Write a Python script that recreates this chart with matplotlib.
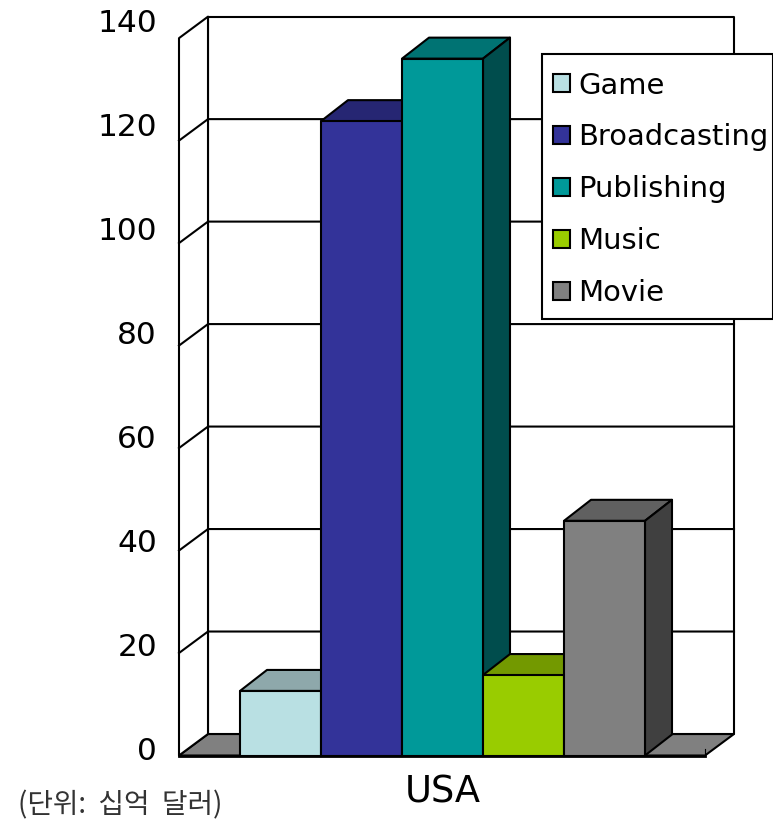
#!/usr/bin/env python3
"""Pseudo-3D column chart of US content market by sector."""
import matplotlib
matplotlib.use('Agg')
import matplotlib.pyplot as plt
from matplotlib.patches import Polygon, Rectangle
from matplotlib.transforms import ScaledTranslation

# ── Data ──
SECTORS = ['Game', 'Broadcasting', 'Publishing', 'Music', 'Movie']
VALUES = [12.6, 123.8, 136.0, 15.7, 45.8]
Y_TICKS = [0, 20, 40, 60, 80, 100, 120, 140]
COUNTRY = 'USA'
UNIT_NOTE = '(단위:  십억  달러)'

FRONT = ['#B9E0E3', '#333399', '#009999', '#99CC00', '#808080']
TOP = ['#8EA8AB', '#262673', '#007373', '#739900', '#606060']
SIDE = ['#6F8688', '#1A1A4D', '#004D4D', '#4D6600', '#404040']

# ── Layout (figure is 773x822 px) ──
W, H = 773, 822
PX_X = 81.0       # px per bar width
PX_Y = 5.124      # px per value unit
LEFT, RIGHT, BOTTOM, TOP_PX = 179, 733, 755.5, 16
WALL_DX, WALL_DY = 29 / PX_X, 21.5 / PX_Y
BAR_DX, BAR_DY = 27 / PX_X, 21 / PX_Y
FLOOR_W = 526 / PX_X
BAR_START = 61 / PX_X
LW = 1.5

fig = plt.figure(figsize=(W / 100, H / 100), dpi=100)
ax = fig.add_axes([LEFT / W, 1 - BOTTOM / H, (RIGHT - LEFT) / W, (BOTTOM - TOP_PX) / H])
ax.set_xlim(0, (RIGHT - LEFT) / PX_X)
ax.set_ylim(0, (BOTTOM - TOP_PX) / PX_Y)
for s in ax.spines.values():
    s.set_visible(False)
ax.patch.set_visible(False)

ymax = max(Y_TICKS)


def poly(pts, fc, z=2):
    ax.add_patch(Polygon(pts, closed=True, fc=fc, ec='black', lw=LW, zorder=z,
                         joinstyle='round', clip_on=False))


# ── Walls, floor, gridlines ──
poly([(0, 0), (FLOOR_W, 0), (FLOOR_W + WALL_DX, WALL_DY), (WALL_DX, WALL_DY)], '#808080', 1)
poly([(WALL_DX, WALL_DY), (FLOOR_W + WALL_DX, WALL_DY),
      (FLOOR_W + WALL_DX, ymax + WALL_DY), (WALL_DX, ymax + WALL_DY)], 'white', 1)
poly([(0, 0), (WALL_DX, WALL_DY), (WALL_DX, ymax + WALL_DY), (0, ymax)], 'white', 1)
for v in Y_TICKS[1:-1]:
    ax.plot([0, WALL_DX, FLOOR_W + WALL_DX], [v, v + WALL_DY, v + WALL_DY],
            color='black', lw=LW, zorder=1.5, clip_on=False)
ax.plot([FLOOR_W, FLOOR_W], [0, 1.3], color='black', lw=0.8, zorder=1.5)
ax.plot([0, FLOOR_W], [0, 0], color='black', lw=2.0, zorder=1.6, clip_on=False)

# ── Bars ──
for i, v in enumerate(VALUES):
    x0, x1 = BAR_START + i, BAR_START + i + 1
    poly([(x0, v), (x1, v), (x1 + BAR_DX, v + BAR_DY), (x0 + BAR_DX, v + BAR_DY)], TOP[i])
    poly([(x1, 0), (x1 + BAR_DX, BAR_DY), (x1 + BAR_DX, v + BAR_DY), (x1, v)], SIDE[i])
    poly([(x0, 0), (x1, 0), (x1, v), (x0, v)], FRONT[i])

# ── Axis labels ──
ax.set_yticks(Y_TICKS)
ax.set_xticks([BAR_START + len(VALUES) / 2])
ax.set_xticklabels([COUNTRY], fontsize=26.5)
ax.tick_params(axis='y', length=0, pad=15.8, labelsize=22.5)
ax.tick_params(axis='x', length=0, pad=12.6)
for v, lab in zip(Y_TICKS, ax.get_yticklabels()):
    # labels drift away from the front edge as the value rises
    off = (7 + 11 * v / ymax) * 0.72
    lab.set_transform(lab.get_transform() + ScaledTranslation(0, off / 72, fig.dpi_scale_trans))

fig.text(18 / W, 1 - 805 / H, UNIT_NOTE, fontsize=20, va='center', ha='left',
         family=['Noto Sans CJK KR', 'DejaVu Sans'], color='#333333')

# ── Legend ── box drawn separately, the text runs almost to its right edge
fig.add_artist(Rectangle((542 / W, 1 - 319.5 / H), 230.5 / W, 265.5 / H, fc='white', ec='black',
                         lw=LW, transform=fig.transFigure, zorder=4))
handles = [Rectangle((0, 0), 1, 1, fc=c, ec='black', lw=LW) for c in FRONT]
leg = fig.legend(handles, SECTORS, loc='upper left', bbox_to_anchor=(553 / W, 1 - 71.5 / H),
                 fontsize=20.9, frameon=False, handlelength=0.58, handleheight=0.58,
                 handletextpad=0.28, labelspacing=0.825, borderpad=0, borderaxespad=0)
leg.set_zorder(5)

plt.savefig('out.png', dpi=100)
plt.close()
